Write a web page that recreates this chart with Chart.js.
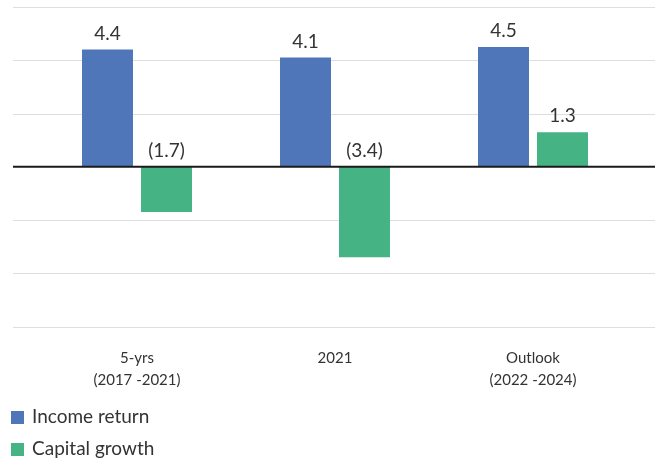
<!DOCTYPE html>
<html>
<head>
<meta charset="utf-8">
<script src="https://cdn.jsdelivr.net/npm/chart.js@4"></script>
<style>
  body { margin: 0; background: #fff; }
  #wrap { position: relative; width: 662px; height: 463px; }
  #legend { position: absolute; left: 11px; top: 402px; font-family: Lato, sans-serif; font-size: 19px; color: #333; }
  #legend div { height: 32px; line-height: 28px; white-space: nowrap; }
  #legend span { display: inline-block; width: 13px; height: 13px; margin-right: 8px; vertical-align: -1px; }
</style>
</head>
<body>
<div id="wrap">
  <canvas id="chart" width="662" height="463"></canvas>
  <div id="legend"></div>
</div>
<script>
const categories = [
    ['5-yrs', '(2017 -2021)'],
    '2021',
    ['Outlook', '(2022 -2024)'],
];

const incomeReturn = [4.4, 4.1, 4.5];
const capitalGrowth = [-1.7, -3.4, 1.3];

const yTicks = [-6, -4, -2, 0, 2, 4, 6];

const data = {
    labels: categories,
    datasets: [{
        label: 'Income return',
        backgroundColor: '#4E76B8',
        data: incomeReturn,
    }, {
        label: 'Capital growth',
        backgroundColor: '#46B385',
        data: capitalGrowth,
    }]
};

// gridlines run wider than the bars, zero line drawn on top
const gridLines = {
    id: 'gridLines',
    beforeDatasetsDraw(chart) {
        const ctx = chart.ctx;
        const y = chart.scales.y;
        ctx.save();
        ctx.strokeStyle = '#dedede';
        ctx.lineWidth = 1;
        yTicks.forEach(v => {
            if (v === 0) return;
            const py = Math.round(y.getPixelForValue(v)) + 0.5;
            ctx.beginPath();
            ctx.moveTo(13, py);
            ctx.lineTo(655, py);
            ctx.stroke();
        });
        ctx.restore();
    },
    afterDatasetsDraw(chart) {
        const ctx = chart.ctx;
        const y = chart.scales.y;
        const zero = y.getPixelForValue(0);
        ctx.save();
        ctx.strokeStyle = '#1a1a1a';
        ctx.lineWidth = 2;
        ctx.beginPath();
        ctx.moveTo(13, zero);
        ctx.lineTo(655, zero);
        ctx.stroke();

        ctx.fillStyle = '#333';
        ctx.font = '19px Lato, sans-serif';
        ctx.textAlign = 'center';
        ctx.textBaseline = 'middle';
        chart.data.datasets.forEach((ds, i) => {
            chart.getDatasetMeta(i).data.forEach((bar, j) => {
                const v = ds.data[j];
                const txt = v < 0 ? '(' + Math.abs(v).toFixed(1) + ')' : v.toFixed(1);
                const top = Math.min(bar.y, zero);
                ctx.fillText(txt, bar.x, top - 16);
            });
        });
        ctx.restore();
    }
};

const config = {
    type: 'bar',
    data: data,
    options: {
        responsive: false,
        animation: false,
        layout: { padding: { left: 38, right: 30, top: 7, bottom: 59 } },
        plugins: {
            legend: { display: false },
            tooltip: { enabled: false }
        },
        datasets: {
            bar: { categoryPercentage: 0.596, barPercentage: 0.864 }
        },
        scales: {
            x: {
                grid: { display: false },
                border: { display: false },
                ticks: {
                    color: '#333',
                    padding: 13,
                    font: { family: 'Lato, sans-serif', size: 15, lineHeight: 1.45 },
                    maxRotation: 0
                }
            },
            y: {
                display: false,
                min: -6,
                max: 6,
                ticks: { stepSize: 2 }
            }
        }
    },
    plugins: [gridLines]
};

const myChart = new Chart(document.getElementById('chart'), config);

document.getElementById('legend').innerHTML = data.datasets.map(ds =>
    '<div><span style="background:' + ds.backgroundColor + '"></span>' + ds.label + '</div>'
).join('');
</script>
</body>
</html>
